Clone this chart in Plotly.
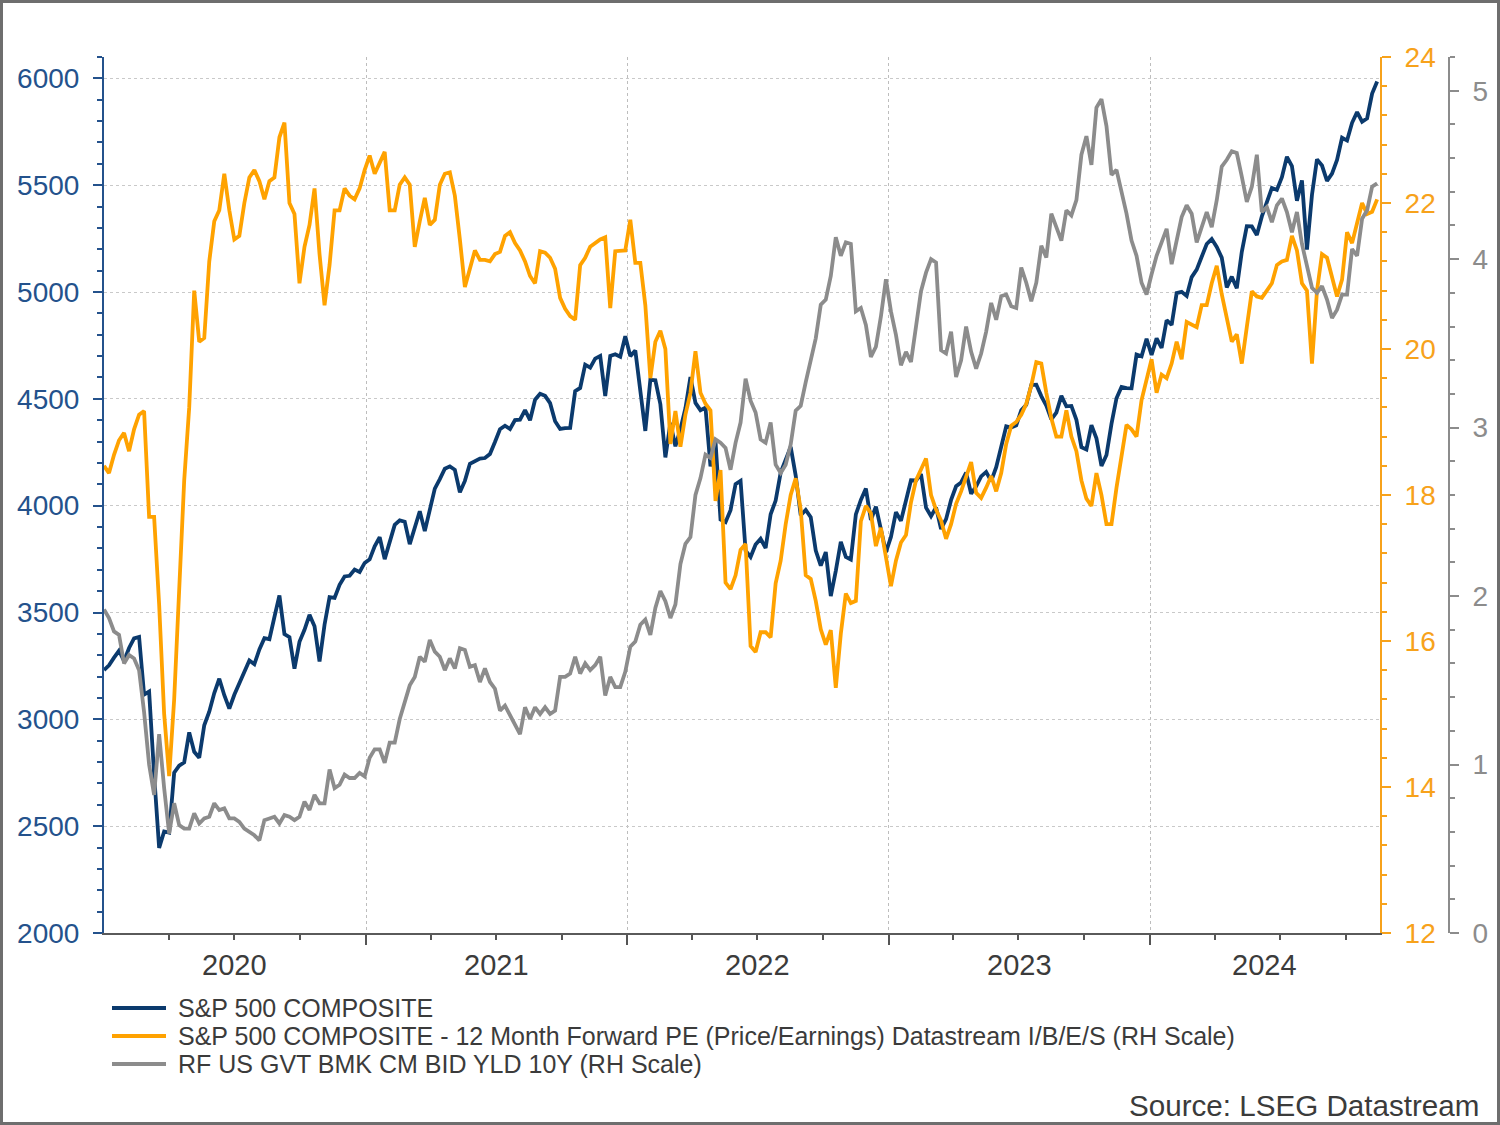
import pandas as pd
import plotly.graph_objects as go

# ---------------- DATA (weekly, Wednesdays from 2020-01-01) ----------------
sp_2020 = [3231, 3253, 3289, 3321, 3273, 3334, 3379, 3386, 3116, 3130,
           2741, 2398, 2475, 2470, 2750, 2783, 2799, 2939, 2848, 2820,
           2972, 3036, 3123, 3190, 3113, 3050, 3115, 3170, 3227, 3276,
           3258, 3327, 3380, 3375, 3479, 3580, 3399, 3385, 3237, 3363,
           3419, 3489, 3436, 3271, 3443, 3572, 3568, 3630, 3669, 3672,
           3701, 3690, 3732]
sp_2021 = [3749, 3810, 3852, 3750, 3830, 3910, 3931, 3925, 3820, 3898,
           3974, 3881, 3973, 4080, 4124, 4173, 4184, 4168, 4063, 4116,
           4196, 4208, 4220, 4223, 4242, 4298, 4358, 4374, 4359, 4401,
           4403, 4447, 4400, 4496, 4524, 4514, 4480, 4395, 4359, 4363,
           4364, 4536, 4551, 4660, 4646, 4688, 4701, 4513, 4701, 4709,
           4697, 4793]
sp_2022 = [4700, 4726, 4533, 4350, 4589, 4587, 4475, 4226, 4387, 4278,
           4358, 4456, 4602, 4481, 4447, 4459, 4184, 4300, 3935, 3923,
           3979, 4101, 4116, 3790, 3760, 3818, 3845, 3802, 3960, 4024,
           4155, 4210, 4275, 4141, 3955, 3980, 3946, 3790, 3719, 3783,
           3577, 3695, 3831, 3760, 3748, 3959, 4027, 4080, 3933, 3996,
           3879, 3783]
sp_2023 = [3853, 3970, 3929, 4016, 4119, 4118, 4148, 3991, 3951, 3992,
           3891, 3937, 4027, 4091, 4109, 4155, 4056, 4091, 4137, 4158,
           4115, 4180, 4268, 4372, 4366, 4376, 4447, 4472, 4565, 4566,
           4513, 4468, 4404, 4436, 4514, 4465, 4467, 4402, 4274, 4263,
           4377, 4315, 4186, 4237, 4383, 4503, 4556, 4550, 4549, 4707,
           4699, 4781]
sp_2024 = [4705, 4783, 4739, 4868, 4846, 4995, 5001, 4982, 5070, 5105,
           5165, 5225, 5248, 5211, 5161, 5022, 5072, 5018, 5188, 5308,
           5307, 5267, 5354, 5421, 5487, 5478, 5537, 5633, 5589, 5427,
           5522, 5199, 5455, 5621, 5592, 5520, 5554, 5618, 5722, 5709,
           5792, 5842, 5797, 5813, 5929, 5985]

pe_2020 = [18.4, 18.3, 18.55, 18.75, 18.85, 18.6, 18.9, 19.1, 19.15, 17.7,
           17.7, 16.5, 15.0, 14.15, 15.2, 16.7, 18.2, 19.2, 20.8, 20.1,
           20.15, 21.2, 21.75, 21.9, 22.4, 21.9, 21.5, 21.55, 22.0, 22.35,
           22.45, 22.3, 22.05, 22.3, 22.35, 22.9, 23.1, 22.0, 21.85, 20.9,
           21.4, 21.7, 22.2, 21.3, 20.6, 21.15, 21.9, 21.9, 22.2, 22.1,
           22.05, 22.2, 22.45]
pe_2021 = [22.65, 22.4, 22.55, 22.7, 21.9, 21.9, 22.25, 22.35, 22.25, 21.4,
           21.75, 22.07, 21.7, 21.77, 22.25, 22.4, 22.42, 22.1, 21.5, 20.85,
           21.1, 21.35, 21.22, 21.22, 21.2, 21.3, 21.33, 21.55, 21.6, 21.45,
           21.35, 21.2, 21.0, 20.9, 21.34, 21.32, 21.25, 21.1, 20.7, 20.55,
           20.45, 20.4, 21.15, 21.25, 21.4, 21.45, 21.5, 21.53, 20.56, 21.34,
           21.35, 21.35]
pe_2022 = [21.77, 21.18, 21.18, 20.6, 19.6, 20.1, 20.25, 20.0, 18.7, 19.15,
           18.66, 19.1, 19.4, 19.97, 19.4, 19.25, 19.16, 17.92, 18.34, 16.8,
           16.71, 16.9, 17.25, 17.33, 15.93, 15.85, 16.12, 16.12, 16.05, 16.79,
           17.1, 17.6, 18.0, 18.23, 17.8, 16.9, 16.85, 16.55, 16.16, 15.95,
           16.15, 15.36, 16.1, 16.65, 16.52, 16.55, 17.64, 17.85, 17.75, 17.3,
           17.55, 17.15]
pe_2023 = [16.75, 17.1, 17.35, 17.45, 17.9, 18.2, 18.35, 18.5, 18.0, 17.8,
           17.65, 17.4, 17.6, 17.88, 18.05, 18.25, 18.45, 18.03, 17.96, 18.1,
           18.26, 18.05, 18.3, 18.7, 18.95, 19.0, 19.1, 19.25, 19.5, 19.82,
           19.8, 19.4, 19.05, 18.8, 18.8, 19.16, 18.8, 18.6, 18.2, 17.95,
           17.85, 18.3, 18.0, 17.6, 17.6, 18.1, 18.5, 18.96, 18.9, 18.8,
           19.3, 19.6]
pe_2024 = [19.86, 19.4, 19.65, 19.6, 19.8, 20.1, 19.86, 20.37, 20.33, 20.3,
           20.6, 20.6, 20.9, 21.14, 20.75, 20.45, 20.1, 20.2, 19.8, 20.3,
           20.79, 20.72, 20.7, 20.8, 20.9, 21.15, 21.2, 21.22, 21.55, 21.35,
           20.9, 20.8, 19.8, 20.8, 21.3, 21.25, 21.0, 20.72, 20.95, 21.6,
           21.45, 21.75, 22.0, 21.85, 21.88, 22.05]

yld_2020 = [1.92, 1.87, 1.79, 1.77, 1.60, 1.65, 1.63, 1.56, 1.31, 1.00,
            0.82, 1.18, 0.86, 0.59, 0.77, 0.64, 0.62, 0.62, 0.71, 0.65,
            0.68, 0.69, 0.77, 0.73, 0.74, 0.68, 0.68, 0.66, 0.62, 0.60,
            0.58, 0.55, 0.67, 0.68, 0.69, 0.65, 0.70, 0.69, 0.67, 0.69,
            0.78, 0.73, 0.82, 0.77, 0.77, 0.97, 0.86, 0.88, 0.94, 0.92,
            0.92, 0.95, 0.93]
yld_2021 = [1.04, 1.09, 1.09, 1.01, 1.13, 1.13, 1.27, 1.38, 1.47, 1.52,
            1.64, 1.61, 1.74, 1.67, 1.64, 1.56, 1.63, 1.57, 1.69, 1.68,
            1.58, 1.59, 1.49, 1.57, 1.49, 1.45, 1.32, 1.35, 1.29, 1.23,
            1.18, 1.34, 1.27, 1.34, 1.30, 1.34, 1.30, 1.32, 1.52, 1.52,
            1.54, 1.64, 1.54, 1.60, 1.56, 1.59, 1.64, 1.41, 1.52, 1.46,
            1.46, 1.55]
yld_2022 = [1.70, 1.73, 1.83, 1.86, 1.77, 1.93, 2.03, 1.97, 1.87, 1.95,
            2.19, 2.31, 2.35, 2.60, 2.70, 2.84, 2.82, 2.93, 2.91, 2.88,
            2.75, 2.91, 3.03, 3.29, 3.16, 3.09, 2.93, 2.91, 3.03, 2.78,
            2.73, 2.78, 2.90, 3.10, 3.13, 3.27, 3.41, 3.53, 3.73, 3.76,
            3.90, 4.13, 4.02, 4.10, 4.09, 3.69, 3.71, 3.61, 3.42, 3.48,
            3.66, 3.88]
yld_2023 = [3.69, 3.55, 3.37, 3.45, 3.39, 3.61, 3.81, 3.92, 4.00, 3.98,
            3.46, 3.44, 3.57, 3.30, 3.40, 3.60, 3.45, 3.35, 3.44, 3.57,
            3.74, 3.64, 3.78, 3.79, 3.72, 3.71, 3.95, 3.86, 3.75, 3.86,
            4.08, 4.01, 4.27, 4.19, 4.11, 4.29, 4.26, 4.35, 4.62, 4.73,
            4.56, 4.90, 4.95, 4.79, 4.50, 4.53, 4.41, 4.27, 4.11, 4.02,
            3.86, 3.79]
yld_2024 = [3.91, 4.02, 4.10, 4.18, 3.97, 4.12, 4.25, 4.32, 4.27, 4.10,
            4.19, 4.28, 4.19, 4.35, 4.55, 4.59, 4.64, 4.63, 4.49, 4.34,
            4.43, 4.62, 4.28, 4.31, 4.22, 4.32, 4.36, 4.28, 4.16, 4.28,
            4.09, 3.96, 3.83, 3.80, 3.84, 3.76, 3.65, 3.70, 3.79, 3.79,
            4.06, 4.02, 4.24, 4.29, 4.43, 4.45]

sp500 = sp_2020 + sp_2021 + sp_2022 + sp_2023 + sp_2024
fwd_pe = pe_2020 + pe_2021 + pe_2022 + pe_2023 + pe_2024
yld10 = yld_2020 + yld_2021 + yld_2022 + yld_2023 + yld_2024
assert len(sp500) == len(fwd_pe) == len(yld10)
dates = pd.date_range("2020-01-01", periods=len(sp500), freq="7D")

series_names = [
    "S&P 500 COMPOSITE",
    "S&P 500 COMPOSITE - 12 Month Forward PE (Price/Earnings) Datastream I/B/E/S (RH Scale)",
    "RF US GVT BMK CM BID YLD 10Y (RH Scale)",
]
year_labels = ["2020", "2021", "2022", "2023", "2024"]
year_label_dates = ["2020-07-01", "2021-07-02", "2022-07-02", "2023-07-02", "2024-06-09"]
year_starts = ["2021-01-01", "2022-01-01", "2023-01-01", "2024-01-01"]
quarter_ticks = [f"{y}-{m}-01" for y in range(2020, 2025) for m in ("04", "07", "10")]
x_range = ["2020-01-01", "2024-11-17"]
source_text = "Source: LSEG Datastream"

# ---------------- STYLE ----------------
BLUE = "#0b3a6d"
BLUE_AX = "#24528c"
ORANGE = "#ffa200"
ORANGE_AX = "#f7a21b"
GREY = "#8c8c8c"
TEXT = "#3b3b3b"
FONT = "Liberation Sans, Arial, sans-serif"

W, H = 1500, 1125
L, R, T, B = 104, 40, 57, 192
PW = W - L - R
PH = H - T - B


def px(x):
    return (x - L) / PW


def py(y):
    return (T + PH - y) / PH


fig = go.Figure()
fig.add_trace(go.Scatter(x=dates, y=sp500, name=series_names[0], mode="lines",
                         line=dict(color=BLUE, width=3.8), yaxis="y"))
fig.add_trace(go.Scatter(x=dates, y=fwd_pe, name=series_names[1], mode="lines",
                         line=dict(color=ORANGE, width=3.8), yaxis="y2"))
fig.add_trace(go.Scatter(x=dates, y=yld10, name=series_names[2], mode="lines",
                         line=dict(color=GREY, width=3.8), yaxis="y3"))

annotations = []
for lab, d in zip(year_labels, year_label_dates):
    annotations.append(dict(x=d, xref="x", y=0, yref="paper", yanchor="middle", yshift=-32,
                            text=lab, showarrow=False, font=dict(size=29, color=TEXT, family=FONT)))

shapes = []
legend_rows = [1008, 1036, 1064]
legend_colors = [BLUE, ORANGE, GREY]
for name, c, yy in zip(series_names, legend_colors, legend_rows):
    shapes.append(dict(type="line", xref="paper", yref="paper", x0=px(112), x1=px(166),
                       y0=py(yy), y1=py(yy), line=dict(color=c, width=4)))
    annotations.append(dict(x=px(176), xref="paper", y=py(yy), yref="paper", xanchor="left",
                            yanchor="middle", text=name, showarrow=False,
                            font=dict(size=25, color=TEXT, family=FONT)))

annotations.append(dict(x=px(1481), xref="paper", y=py(1105), yref="paper", xanchor="right",
                        yanchor="middle", text=source_text, showarrow=False,
                        font=dict(size=29.6, color=TEXT, family=FONT)))

shapes.append(dict(type="rect", xref="paper", yref="paper", x0=px(1.5), x1=px(1498.5),
                   y0=py(1123.5), y1=py(1.5), line=dict(color="#6e6e6e", width=3),
                   fillcolor="rgba(0,0,0,0)", layer="above"))

fig.update_layout(
    width=W, height=H, template="none",
    margin=dict(l=L, r=R, t=T, b=B, autoexpand=False),
    paper_bgcolor="white", plot_bgcolor="white",
    font=dict(family=FONT, color=TEXT),
    showlegend=False,
    hovermode=False,
    annotations=annotations,
    shapes=shapes,
    xaxis=dict(
        domain=[0, (1380 - L) / PW], range=x_range, type="date",
        tickmode="array", tickvals=year_starts, ticktext=[""] * len(year_starts),
        ticks="outside", ticklen=10, tickwidth=1.5, tickcolor="#555555",
        showgrid=True, gridcolor="#bdbdbd", griddash="dot", gridwidth=1,
        showline=True, linecolor="#5a5a5a", linewidth=2, zeroline=False,
        minor=dict(tickmode="array", tickvals=quarter_ticks, ticks="outside", ticklen=5,
                   tickwidth=1.5, tickcolor="#555555", showgrid=False),
        automargin=False, fixedrange=True,
    ),
    yaxis=dict(
        range=[2000, 6100], tick0=2000, dtick=500,
        ticks="outside", ticklen=9, tickwidth=1.5, tickcolor=BLUE_AX,
        showline=True, linecolor=BLUE_AX, linewidth=2,
        tickfont=dict(size=28, color=BLUE_AX, family=FONT), ticklabelstandoff=8,
        showgrid=True, gridcolor="#c9c9c9", griddash="3px,3px", gridwidth=1,
        minor=dict(dtick=100, ticks="outside", ticklen=5, tickwidth=1.5, tickcolor=BLUE_AX, showgrid=False),
        zeroline=False, automargin=False, fixedrange=True,
    ),
    yaxis2=dict(
        overlaying="y", side="right", anchor="x",
        range=[12, 24], tick0=12, dtick=2,
        ticks="outside", ticklen=9, tickwidth=1.5, tickcolor=ORANGE_AX,
        showline=True, linecolor=ORANGE_AX, linewidth=2,
        tickfont=dict(size=28, color=ORANGE_AX, family=FONT), ticklabelstandoff=8,
        showgrid=False, zeroline=False,
        minor=dict(dtick=0.4, ticks="outside", ticklen=5, tickwidth=1.5, tickcolor=ORANGE_AX, showgrid=False),
        automargin=False, fixedrange=True,
    ),
    yaxis3=dict(
        overlaying="y", side="right", anchor="free", position=(1449 - L) / PW,
        range=[0, 5.2], tick0=0, dtick=1,
        ticks="outside", ticklen=9, tickwidth=1.5, tickcolor=GREY,
        showline=True, linecolor=GREY, linewidth=2,
        tickfont=dict(size=28, color=GREY, family=FONT), ticklabelstandoff=8,
        showgrid=False, zeroline=False,
        minor=dict(dtick=0.2, ticks="outside", ticklen=5, tickwidth=1.5, tickcolor=GREY, showgrid=False),
        automargin=False, fixedrange=True,
    ),
)

fig.write_html("out.html")
